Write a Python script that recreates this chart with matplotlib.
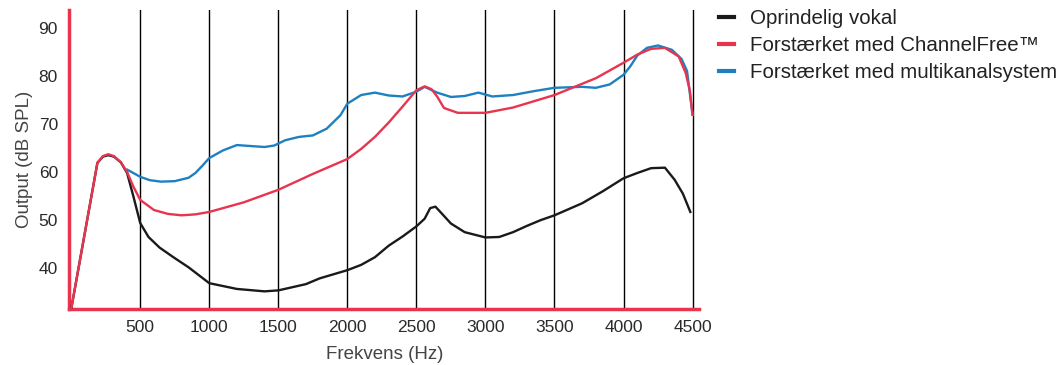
import matplotlib.pyplot as plt

# frequency (Hz) / output (dB SPL)
orig_freq = [0, 190, 230, 268, 310, 360, 405, 450, 500, 560, 640, 740, 850, 1000, 1200, 1400,
             1500, 1700, 1800, 2000, 2100, 2200, 2300, 2400, 2500, 2560, 2600, 2638, 2680,
             2750, 2850, 3000, 3100, 3200, 3300, 3400, 3500, 3700, 3850, 4000, 4100, 4200,
             4300, 4370, 4430, 4484]
orig_vals = [31.5, 61.9, 63.2, 63.5, 63.2, 62.0, 59.8, 55.0, 49.4, 46.5, 44.3, 42.3, 40.2, 36.9,
             35.7, 35.2, 35.4, 36.7, 37.9, 39.6, 40.7, 42.3, 44.7, 46.6, 48.7, 50.3, 52.5, 52.8,
             51.5, 49.3, 47.5, 46.4, 46.5, 47.5, 48.8, 50.0, 51.0, 53.5, 56.0, 58.7, 59.8, 60.8,
             60.9, 58.4, 55.5, 51.7]

cf_freq = [0, 190, 230, 268, 310, 360, 405, 450, 500, 600, 700, 800, 900, 1000, 1250, 1500,
           1750, 2000, 2100, 2200, 2300, 2400, 2500, 2560, 2610, 2650, 2700, 2800, 3000, 3200,
           3500, 3800, 4000, 4100, 4200, 4300, 4400, 4450, 4480, 4500]
cf_vals = [31.5, 61.9, 63.3, 63.7, 63.3, 62.0, 60.0, 57.0, 54.2, 52.1, 51.3, 51.0, 51.2, 51.7,
           53.7, 56.3, 59.6, 62.7, 64.8, 67.3, 70.3, 73.6, 77.0, 77.8, 77.2, 75.7, 73.3, 72.3,
           72.3, 73.4, 76.0, 79.5, 82.7, 84.4, 85.6, 85.8, 84.0, 80.6, 77.0, 71.9]

mk_freq = [405, 450, 500, 570, 650, 750, 850, 900, 950, 1000, 1100, 1200, 1300, 1400, 1470,
           1550, 1650, 1750, 1850, 1950, 2000, 2100, 2200, 2300, 2400, 2500, 2560, 2650, 2750,
           2850, 2950, 3050, 3200, 3350, 3500, 3700, 3800, 3900, 4000, 4050, 4100, 4170, 4250,
           4350, 4420, 4460, 4500]
mk_vals = [60.5, 59.8, 59.0, 58.3, 58.0, 58.1, 58.8, 59.8, 61.3, 62.9, 64.5, 65.6, 65.4, 65.2,
           65.5, 66.6, 67.3, 67.6, 69.0, 71.8, 74.2, 76.0, 76.5, 75.9, 75.7, 76.7, 77.7, 76.5,
           75.6, 75.8, 76.5, 75.7, 76.0, 76.8, 77.5, 77.7, 77.5, 78.2, 80.2, 82.0, 84.2, 85.8,
           86.3, 85.4, 83.5, 81.0, 71.9]

labels = ['Oprindelig vokal', 'Forstærket med ChannelFree™', 'Forstærket med multikanalsystem']
xticks = [500, 1000, 1500, 2000, 2500, 3000, 3500, 4000, 4500]
yticks = [40, 50, 60, 70, 80, 90]

red = '#e8344e'
blue = '#1f80c0'

plt.rcParams['font.family'] = ['Liberation Sans', 'DejaVu Sans']

fig = plt.figure(figsize=(10.63, 3.65), dpi=100)
ax = fig.add_axes([0.065, 0.153, 0.593, 0.82])

for x in xticks:
    ax.axvline(x, color='black', lw=1, zorder=1)

ax.plot(orig_freq, orig_vals, color='#1a1a1a', lw=1.7, label=labels[0], zorder=3)
ax.plot(cf_freq, cf_vals, color=red, lw=1.7, label=labels[1], zorder=4)
ax.plot(mk_freq, mk_vals, color=blue, lw=1.7, label=labels[2], zorder=3)

ax.set_xlim(-15, 4550)
ax.set_ylim(31.5, 93.7)
ax.set_xticks(xticks)
ax.set_yticks(yticks)
ax.tick_params(length=0, labelsize=12.5, colors='#2a2a2a', pad=8)

for s in ['top', 'right']:
    ax.spines[s].set_visible(False)
for s in ['left', 'bottom']:
    ax.spines[s].set_color(red)
    ax.spines[s].set_linewidth(2.5)

ax.set_ylabel('Output (dB SPL)', fontsize=13.5, color='#444444', labelpad=4)
ax.set_xlabel('Frekvens (Hz)', fontsize=13.5, color='#444444', labelpad=8)

handles, labs = ax.get_legend_handles_labels()
leg = fig.legend(handles, labs, loc='upper left', bbox_to_anchor=(719 / 1063, 1 - 9.5 / 365),
                 frameon=False, fontsize=14.8, handlelength=0.75, handletextpad=0.75,
                 labelspacing=0.38, borderpad=0, borderaxespad=0)
for line in leg.get_lines():
    line.set_linewidth(3)
for t in leg.get_texts():
    t.set_color('#222222')

fig.savefig('out.png', dpi=100)
